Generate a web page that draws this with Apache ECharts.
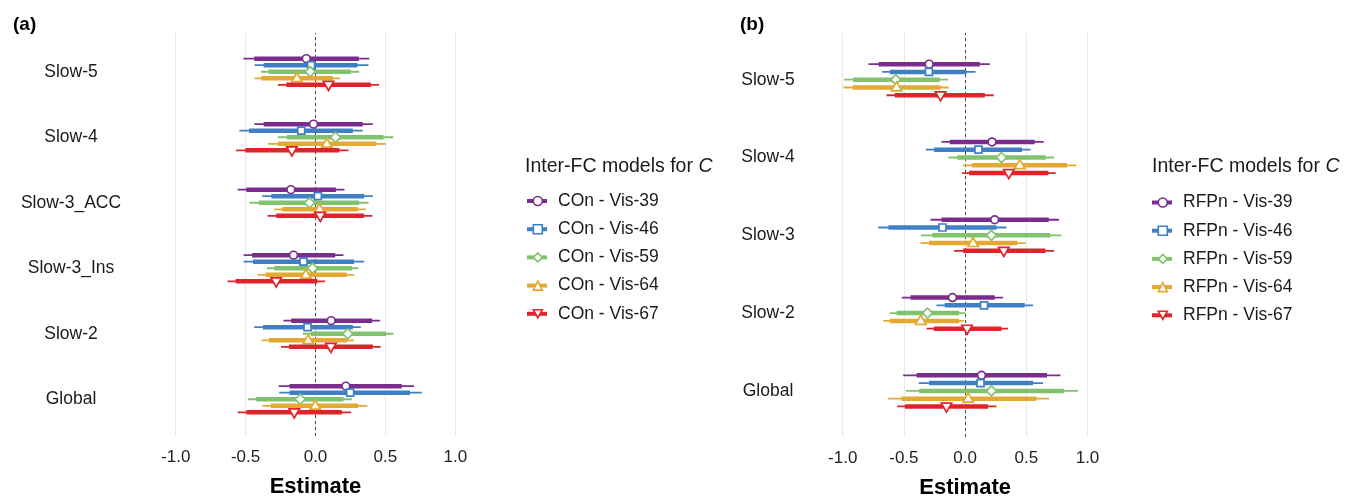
<!DOCTYPE html>
<html>
<head>
<meta charset="utf-8">
<script src="https://cdn.jsdelivr.net/npm/echarts@6/dist/echarts.min.js"></script>
<style>
  html, body { margin: 0; padding: 0; background: #fff; }
  #main { width: 1354px; height: 496px; }
</style>
</head>
<body>
<div id="main"></div>
<script>
// categories (top to bottom)
var catsA = ['Slow-5', 'Slow-4', 'Slow-3_ACC', 'Slow-3_Ins', 'Slow-2', 'Global'];
var catsB = ['Slow-5', 'Slow-4', 'Slow-3', 'Slow-2', 'Global'];
var modelsA = ['COn - Vis-39', 'COn - Vis-46', 'COn - Vis-59', 'COn - Vis-64', 'COn - Vis-67'];
var modelsB = ['RFPn - Vis-39', 'RFPn - Vis-46', 'RFPn - Vis-59', 'RFPn - Vis-64', 'RFPn - Vis-67'];
var ticks = [-1.0, -0.5, 0.0, 0.5, 1.0];

// panel (a): [model][category]
var estA = [
    [-0.066, -0.014, -0.176, -0.157, 0.112, 0.217],
    [-0.031, -0.102, 0.017, -0.086, -0.057, 0.248],
    [-0.038, 0.143, -0.043, -0.021, 0.231, -0.109],
    [-0.133, 0.081, 0.029, -0.069, -0.052, -0.002],
    [0.093, -0.169, 0.034, -0.281, 0.110, -0.152]
];
var lo95A = [
    [-0.516, -0.438, -0.557, -0.514, -0.229, -0.264],
    [-0.436, -0.545, -0.381, -0.514, -0.438, -0.259],
    [-0.390, -0.269, -0.471, -0.347, -0.090, -0.483],
    [-0.436, -0.340, -0.295, -0.414, -0.386, -0.381],
    [-0.269, -0.569, -0.343, -0.629, -0.247, -0.557]
];
var hi95A = [
    [0.385, 0.410, 0.207, 0.200, 0.462, 0.705],
    [0.379, 0.338, 0.410, 0.348, 0.324, 0.760],
    [0.312, 0.557, 0.379, 0.307, 0.557, 0.260],
    [0.176, 0.503, 0.360, 0.276, 0.276, 0.371],
    [0.455, 0.236, 0.407, 0.069, 0.467, 0.255]
];
var lo66A = [
    [-0.438, -0.371, -0.495, -0.454, -0.174, -0.186],
    [-0.371, -0.476, -0.316, -0.447, -0.376, -0.186],
    [-0.336, -0.205, -0.405, -0.295, -0.033, -0.424],
    [-0.388, -0.269, -0.238, -0.357, -0.333, -0.319],
    [-0.209, -0.502, -0.281, -0.571, -0.190, -0.495]
];
var hi66A = [
    [0.310, 0.338, 0.146, 0.141, 0.405, 0.617],
    [0.300, 0.267, 0.348, 0.276, 0.267, 0.676],
    [0.253, 0.486, 0.312, 0.260, 0.505, 0.200],
    [0.124, 0.434, 0.303, 0.224, 0.224, 0.307],
    [0.396, 0.171, 0.348, 0.014, 0.410, 0.188]
];

// panel (b): [model][category]
var estB = [
    [-0.294, 0.220, 0.242, -0.103, 0.134],
    [-0.296, 0.109, -0.185, 0.155, 0.126],
    [-0.566, 0.297, 0.215, -0.307, 0.215],
    [-0.560, 0.447, 0.065, -0.362, 0.025],
    [-0.201, 0.357, 0.316, 0.016, -0.152]
];
var lo95B = [
    [-0.789, -0.193, -0.283, -0.517, -0.506],
    [-0.678, -0.321, -0.710, -0.234, -0.378],
    [-0.988, -0.136, -0.362, -0.615, -0.484],
    [-0.993, -0.016, -0.364, -0.669, -0.628],
    [-0.642, -0.024, -0.090, -0.315, -0.555]
];
var hi95B = [
    [0.202, 0.642, 0.767, 0.310, 0.779],
    [0.085, 0.536, 0.338, 0.555, 0.637],
    [-0.139, 0.727, 0.787, 0.000, 0.922],
    [-0.133, 0.909, 0.495, -0.011, 0.686],
    [0.234, 0.740, 0.727, 0.351, 0.256]
];
var lo66B = [
    [-0.707, -0.125, -0.193, -0.446, -0.397],
    [-0.615, -0.253, -0.626, -0.166, -0.294],
    [-0.914, -0.065, -0.269, -0.560, -0.375],
    [-0.919, 0.054, -0.294, -0.615, -0.519],
    [-0.574, 0.033, -0.016, -0.256, -0.492]
];
var hi66B = [
    [0.120, 0.569, 0.683, 0.242, 0.669],
    [0.011, 0.465, 0.256, 0.487, 0.555],
    [-0.207, 0.659, 0.697, -0.049, 0.806],
    [-0.201, 0.833, 0.427, -0.049, 0.583],
    [0.161, 0.680, 0.656, 0.297, 0.188]
];

var colors = ['#7b2d8e', '#3f7fc4', '#80c26e', '#e3a932', '#e2232a'];
var shapes = ['circle', 'square', 'diamond', 'up', 'down'];
var legendIcons = ['circle', 'rect', 'diamond', 'triangle', 'path://M0,0L10,0L5,9Z'];
var FONT = 'Liberation Sans, Arial, Helvetica, sans-serif';

function markerShape(shape, x, y) {
    if (shape === 'circle') return { type: 'circle', shape: { cx: x, cy: y, r: 3.9 } };
    if (shape === 'square') return { type: 'rect', shape: { x: x - 3.5, y: y - 3.5, width: 7, height: 7 } };
    if (shape === 'diamond') return { type: 'polygon', shape: { points: [[x, y - 5], [x + 5, y], [x, y + 5], [x - 5, y]] } };
    if (shape === 'up') return { type: 'polygon', shape: { points: [[x, y - 5.6], [x + 5.2, y + 3.4], [x - 5.2, y + 3.4]] } };
    return { type: 'polygon', shape: { points: [[x, y + 5.6], [x + 5.2, y - 3.4], [x - 5.2, y - 3.4]] } };
}

function makeRender(k) {
    return function (params, api) {
        var ci = api.value(0);
        var band = api.size([0, 1])[1];
        var dy = (k - 2) * 0.1 * band;
        var p = api.coord([api.value(1), ci]);
        var a = api.coord([api.value(2), ci]);
        var b = api.coord([api.value(3), ci]);
        var c = api.coord([api.value(4), ci]);
        var d = api.coord([api.value(5), ci]);
        var y = p[1] + dy;
        var col = colors[k];
        var m = markerShape(shapes[k], p[0], y);
        m.style = { fill: '#fff', stroke: col, lineWidth: 1.7 };
        return {
            type: 'group',
            children: [
                { type: 'line', shape: { x1: a[0], y1: y, x2: b[0], y2: y }, style: { stroke: col, lineWidth: 1.8 } },
                { type: 'line', shape: { x1: c[0], y1: y, x2: d[0], y2: y }, style: { stroke: col, lineWidth: 4.5 } },
                m
            ]
        };
    };
}

function buildSeries(models, est, lo95, hi95, lo66, hi66, xi, yi) {
    return models.map(function (name, k) {
        var data = est[k].map(function (v, ci) {
            return [ci, v, lo95[k][ci], hi95[k][ci], lo66[k][ci], hi66[k][ci]];
        });
        return {
            name: name,
            type: 'custom',
            xAxisIndex: xi,
            yAxisIndex: yi,
            itemStyle: { color: colors[k] },
            renderItem: makeRender(k),
            encode: { x: [1, 2, 3, 4, 5], y: 0 },
            data: data,
            z: 5
        };
    });
}

function zeroLine(xi, yi) {
    return {
        type: 'line', xAxisIndex: xi, yAxisIndex: yi, data: [[0, 0]], showSymbol: false, silent: true,
        lineStyle: { width: 0 },
        markLine: {
            silent: true, symbol: 'none', label: { show: false },
            lineStyle: { type: [3, 3], color: '#333', width: 0.9 },
            data: [{ xAxis: 0 }]
        }
    };
}

function bgXAxis(gi) {
    return {
        type: 'value', gridIndex: gi, min: -1, max: 1, interval: 0.5,
        name: 'Estimate', nameLocation: 'middle', nameGap: 40,
        nameTextStyle: { fontSize: 22, fontWeight: 'bold', color: '#000', fontFamily: FONT },
        axisLine: { show: false }, axisTick: { show: false },
        axisLabel: { fontSize: 17, color: '#222', margin: 13, fontFamily: FONT,
            formatter: function (v) { return ticks.indexOf(v) >= 0 ? v.toFixed(1) : ''; } },
        splitLine: { show: true, lineStyle: { color: '#e8e8e8', width: 1 } }
    };
}

function catYAxis(gi, cats, margin) {
    return {
        type: 'category', gridIndex: gi, data: cats, inverse: true,
        axisLine: { show: false }, axisTick: { show: false }, splitLine: { show: false },
        axisLabel: { fontSize: 17.5, color: '#1a1a1a', align: 'center', margin: margin, fontFamily: FONT }
    };
}

function legendPair(models, left, top) {
    var textBase = { fontSize: 17.5, lineHeight: 20, fontFamily: FONT };
    return [
        {
            orient: 'vertical', left: left, top: top, itemWidth: 20, itemHeight: 4, itemGap: 8.2,
            selectedMode: false, icon: 'rect',
            textStyle: Object.assign({ color: '#1a1a1a', padding: [0, 0, 0, 6] }, textBase),
            data: models.map(function (n, i) { return { name: n, itemStyle: { color: colors[i], borderWidth: 0 } }; })
        },
        {
            orient: 'vertical', left: left + 5.5, top: top, itemWidth: 9, itemHeight: 9, itemGap: 8.2,
            selectedMode: false, z: 10,
            textStyle: Object.assign({ color: 'rgba(0,0,0,0)', padding: [0, 0, 0, 6] }, textBase),
            data: models.map(function (n, i) {
                return { name: n, icon: legendIcons[i], itemStyle: { color: '#fff', borderColor: colors[i], borderWidth: 1.6 } };
            })
        }
    ];
}

var legendTitle = {
    fontSize: 19.5, fontWeight: 'normal', color: '#1a1a1a', fontFamily: FONT, lineHeight: 24,
    rich: { i: { fontStyle: 'italic', fontSize: 19.5, color: '#1a1a1a', fontFamily: FONT, lineHeight: 24 } }
};

function grid(left, width, top, height) {
    return { left: left, width: width, top: top, height: height, containLabel: false, outerBoundsMode: 'none' };
}

var chart = echarts.init(document.getElementById('main'), null, { renderer: 'canvas' });
var option = {
    backgroundColor: '#fff',
    animation: false,
    textStyle: { fontFamily: FONT },
    title: [
        { text: '(a)', left: 8, top: 10, textStyle: { fontSize: 19, fontWeight: 'bold', color: '#000', fontFamily: FONT } },
        { text: '(b)', left: 735, top: 10, textStyle: { fontSize: 19, fontWeight: 'bold', color: '#000', fontFamily: FONT } },
        { text: 'Inter-FC models for {i|C}', left: 520, top: 150, textStyle: legendTitle },
        { text: 'Inter-FC models for {i|C}', left: 1147, top: 150, textStyle: legendTitle }
    ],
    legend: legendPair(modelsA, 522, 186).concat(legendPair(modelsB, 1147, 187.5)),
    grid: [
        grid(175.7, 279.6, 33, 403),
        grid(175.7, 279.6, 39, 393),
        grid(842.7, 244.8, 33, 404),
        grid(842.7, 244.8, 40.8, 389)
    ],
    xAxis: [
        bgXAxis(0),
        { type: 'value', gridIndex: 1, min: -1, max: 1, show: false },
        bgXAxis(2),
        { type: 'value', gridIndex: 3, min: -1, max: 1, show: false }
    ],
    yAxis: [
        { type: 'value', gridIndex: 0, min: 0, max: 1, show: false },
        catYAxis(1, catsA, 104.7),
        { type: 'value', gridIndex: 2, min: 0, max: 1, show: false },
        catYAxis(3, catsB, 74.7)
    ],
    series: [zeroLine(0, 0), zeroLine(2, 2)]
        .concat(buildSeries(modelsA, estA, lo95A, hi95A, lo66A, hi66A, 1, 1))
        .concat(buildSeries(modelsB, estB, lo95B, hi95B, lo66B, hi66B, 3, 3))
};
chart.setOption(option);
</script>
</body>
</html>
